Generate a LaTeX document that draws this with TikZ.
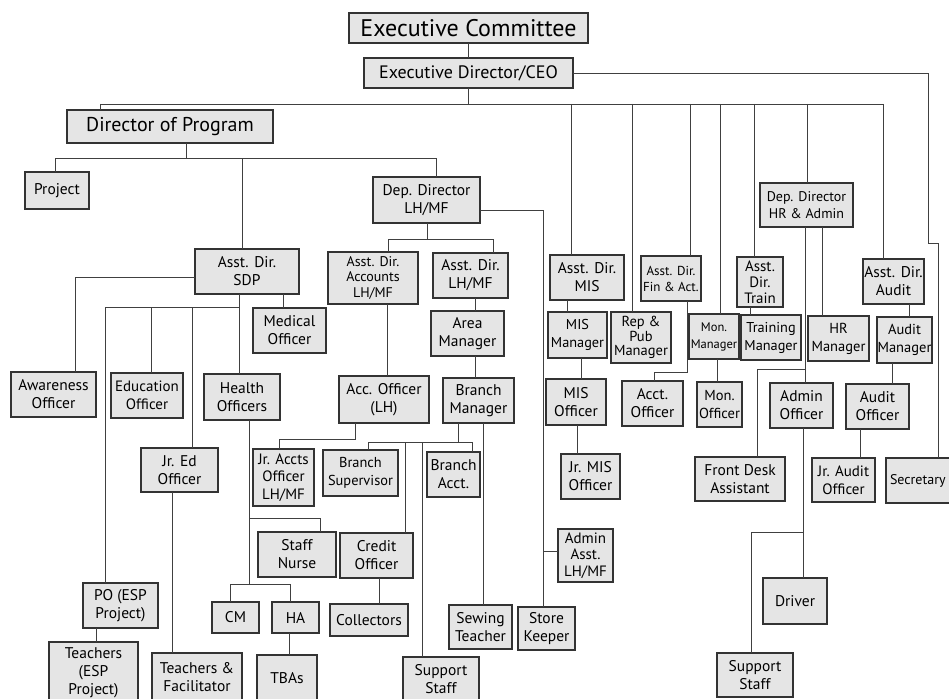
\documentclass[tikz,border=0pt]{standalone}
\usepackage{fontspec}
\setmainfont{PT Sans}
\begin{document}
\begin{tikzpicture}[x=1pt,y=-1pt]
\tikzset{
 box/.style={draw=black!80, line width=1.1pt, fill=black!10, inner sep=0pt, outer sep=0pt, align=center, font=\fontsize{15.5}{18}\selectfont, text=black},
 ln/.style={draw=black!75, line width=0.9pt},
 fs/.style 2 args={font=\fontsize{#1}{#2}\selectfont},
}
\newcommand\bx[7][]{\node[box,minimum width={(#5)-(#3)},minimum height={(#6)-(#4)},#1] (#2) at ({((#3)+(#5))/2},{((#4)+(#6))/2}) {#7};}
\newcommand\vlink[3]{\coordinate (tmp) at (#1,0); \draw[ln] (tmp |- #2.south) -- (tmp |- #3.north);}
\clip (0,0) rectangle (949,698);
\fill[white] (0,0) rectangle (949,698);
% boxes
\bx[fs={24}{28}]{ec}{349}{13}{588}{43}{Executive Committee}
\bx[fs={18}{21}]{ed}{364}{58}{573}{88}{Executive Director/CEO}
\bx[fs={20}{23}]{dop}{67}{110}{273}{143}{Director of Program}
\bx{proj}{25}{172}{89}{209}{Project}
\bx{ddlh}{373}{177}{480}{223}{Dep. Director\\LH/MF}
\bx{sdp}{195}{249}{299}{294}{Asst. Dir.\\SDP}
\bx[fs={14}{15.5}]{ada}{328}{252}{418}{304}{Asst. Dir.\\Accounts\\LH/MF}
\bx{adlh}{433}{253}{508}{298}{Asst. Dir.\\LH/MF}
\bx{mis}{550}{255}{624}{300}{Asst. Dir.\\MIS}
\bx[fs={13}{16}]{fin}{641}{256}{701}{301}{Asst. Dir.\\Fin \& Act.}
\bx[fs={15}{16}]{train}{737}{257}{783}{307}{Asst.\\Dir.\\Train}
\bx[fs={14}{17}]{ddhr}{760}{183}{853}{227}{Dep. Director\\HR \& Admin}
\bx{audit}{863}{259}{924}{304}{Asst. Dir.\\Audit}
\bx{med}{253}{308}{326}{353}{Medical\\Officer}
\bx{area}{431}{311}{504}{356}{Area\\Manager}
\bx[fs={14.3}{18}]{mism}{548}{312}{607}{358}{MIS\\Manager}
\bx[fs={14.5}{14.5}]{rep}{611}{312}{671}{363}{Rep \&\\Pub\\Manager}
\bx[fs={12.5}{17}]{monm}{689}{314}{739}{359}{Mon.\\Manager}
\bx[fs={14.3}{18}]{trm}{741}{315}{801}{360}{Training\\Manager}
\bx[fs={14.5}{18}]{hrm}{808}{316}{869}{361}{HR\\Manager}
\bx[fs={14.5}{18}]{audm}{877}{317}{932}{363}{Audit\\Manager}
\bx{aw}{11}{372}{96}{417}{Awareness\\Officer}
\bx[fs={15}{18}]{edu}{111}{373}{183}{418}{Education\\Officer}
\bx{health}{204}{374}{280}{420}{Health\\Officers}
\bx{acco}{339}{376}{429}{423}{Acc. Officer\\(LH)}
\bx{brm}{443}{378}{514}{423}{Branch\\Manager}
\bx{miso}{546}{379}{606}{425}{MIS\\Officer}
\bx{acct}{622}{381}{683}{426}{Acct.\\Officer}
\bx[fs={14.5}{18}]{mono}{697}{382}{742}{427}{Mon.\\Officer}
\bx{admo}{770}{383}{833}{428}{Admin\\Officer}
\bx{audo}{846}{384}{909}{429}{Audit\\Officer}
\bx{jred}{141}{448}{218}{492}{Jr. Ed\\Officer}
\bx[fs={15}{17.5}]{jracc}{253}{449}{314}{506}{Jr. Accts\\Officer\\LH/MF}
\bx[fs={14.4}{18}]{brs}{323}{450}{398}{496}{Branch\\Supervisor}
\bx{bra}{427}{452}{480}{497}{Branch\\Acct.}
\bx{jrmis}{561}{454}{620}{499}{Jr. MIS\\Officer}
\bx{fd}{695}{457}{785}{501}{Front Desk\\Assistant}
\bx[fs={15}{18}]{jraud}{812}{458}{875}{502}{Jr. Audit\\Officer}
\bx[fs={14}{17},text width=66pt,align=left]{sec}{886}{458}{958}{503}{\hspace*{1pt}Secretary}
\bx{nurse}{258}{532}{336}{577}{Staff\\Nurse}
\bx[fs={15}{16.5}]{adasst}{558}{529}{613}{582}{Admin\\Asst.\\LH/MF}
\bx{credit}{340}{533}{413}{578}{Credit\\Officer}
\bx{driver}{763}{578}{827}{624}{Driver}
\bx{po}{83}{583}{158}{628}{PO (ESP\\Project)}
\bx{cm}{212}{602}{259}{633}{CM}
\bx{ha}{272}{602}{319}{633}{HA}
\bx{coll}{330}{604}{408}{636}{Collectors}
\bx{sew}{449}{605}{512}{649}{Sewing\\Teacher}
\bx{store}{518}{607}{575}{650}{Store\\Keeper}
\bx{teach}{49}{642}{138}{704}{Teachers\\(ESP\\Project)}
\bx{tf}{152}{653}{242}{702}{Teachers \&\\Facilitator}
\bx{tba}{257}{655}{317}{702}{TBAs}
\bx{sup1}{403}{657}{479}{702}{Support\\Staff}
\bx{sup2}{717}{653}{793}{697}{Support\\Staff}
% top connectors
\draw[ln] (ec.south) -- (ed.north);
\coordinate (busL) at (100,104);
\coordinate (busR) at (883,104);
\coordinate (bMis) at (571,104);
\coordinate (bRep) at (632,104);
\coordinate (bFin) at (690,104);
\coordinate (bMon) at (720,104);
\coordinate (bTr) at (754,104);
\coordinate (bHR) at (807,104);
\draw[ln] (ed.south) -- (ed.south |- busL);
\draw[ln] (busL) -- (busR);
\draw[ln] (busL) -- (busL |- dop.north);
\foreach \c/\n in {bMis/mis,bRep/rep,bFin/fin,bMon/monm,bTr/train,bHR/ddhr,busR/audit}
  \draw[ln] (\c) -- (\c |- \n.north);
\coordinate (r1) at (928,73);
\coordinate (r2) at (928,243);
\coordinate (r3) at (938,243);
\draw[ln] (ed.east |- r1) -- (r1) -- (r2) -- (r3) -- (r3 |- sec.north);
% director of program
\coordinate (dL) at (55,158);
\coordinate (dR) at (436,158);
\coordinate (dM) at (242,158);
\coordinate (dT) at (186,158);
\draw[ln] (dT |- dop.south) -- (dT);
\draw[ln] (dL) -- (dR);
\draw[ln] (dL) -- (dL |- proj.north);
\draw[ln] (dM) -- (dM |- sdp.north);
\draw[ln] (dR) -- (dR |- ddlh.north);
% dep director LH/MF
\coordinate (l1) at (543,210);
\coordinate (l2) at (543,551);
\draw[ln] (ddlh.east |- l1) -- (l1) -- (l1 |- store.north);
\draw[ln] (l2) -- (l2 -| adasst.west);
\coordinate (k0) at (427,239);
\coordinate (kL) at (388,239);
\coordinate (kR) at (493,239);
\draw[ln] (k0 |- ddlh.south) -- (k0);
\draw[ln] (kL) -- (kR);
\draw[ln] (kL) -- (kL |- ada.north);
\draw[ln] (kR) -- (kR |- adlh.north);
% vertical links
\vlink{387}{ada}{acco}
\vlink{475}{adlh}{area}
\vlink{475}{area}{brm}
\vlink{567}{mis}{mism}
\vlink{581}{mism}{miso}
\vlink{577}{miso}{jrmis}
\vlink{717}{monm}{mono}
\vlink{750}{train}{trm}
\vlink{822}{ddhr}{hrm}
\vlink{909}{audit}{audm}
\vlink{892}{audm}{audo}
\vlink{860}{audo}{jraud}
\vlink{239}{sdp}{health}
\vlink{283}{sdp}{med}
\vlink{289}{ha}{tba}
\vlink{96}{po}{teach}
\vlink{172}{jred}{tf}
\vlink{379}{credit}{coll}
\vlink{483}{brm}{sew}
\vlink{805}{ddhr}{admo}
\vlink{803}{admo}{driver}
% elbows
\coordinate (e1) at (355,439);
\coordinate (e2) at (279,439);
\draw[ln] (e1 |- acco.south) -- (e1) -- (e2) -- (e2 |- jracc.north);
\coordinate (g0) at (458,442);
\coordinate (gL) at (368,442);
\coordinate (gR) at (472,442);
\coordinate (gC) at (405,442);
\coordinate (gS) at (422,442);
\draw[ln] (g0 |- brm.south) -- (g0);
\draw[ln] (gL) -- (gR);
\draw[ln] (gL) -- (gL |- brs.north);
\draw[ln] (gR) -- (gR |- bra.north);
\draw[ln] (gC) -- (gC |- credit.north);
\draw[ln] (gS) -- (gS |- sup1.north);
\coordinate (f1) at (687,372);
\coordinate (f2) at (654,372);
\draw[ln] (f1 |- fin.south) -- (f1) -- (f2) -- (f2 |- acct.north);
\coordinate (h1) at (805,369);
\coordinate (h2) at (757,369);
\draw[ln] (h1) -- (h2) -- (h2 |- fd.north);
\coordinate (j1) at (803,532);
\coordinate (j2) at (751,532);
\draw[ln] (j1) -- (j2) -- (j2 |- sup2.north);
\coordinate (s1) at (75,277);
\draw[ln] (sdp.west |- s1) -- (s1) -- (s1 |- aw.north);
\coordinate (t0) at (239,307);
\coordinate (tL) at (105,307);
\coordinate (tE) at (151,307);
\coordinate (tJ) at (192,307);
\draw[ln] (tL) -- (t0);
\draw[ln] (tL) -- (tL |- po.north);
\draw[ln] (tE) -- (tE |- edu.north);
\draw[ln] (tJ) -- (tJ |- jred.north);
\coordinate (u1) at (249,584);
\coordinate (u2) at (249,518);
\coordinate (uN) at (320,518);
\draw[ln] (u1 |- health.south) -- (u1);
\draw[ln] (u2) -- (uN) -- (uN |- nurse.north);
\coordinate (cL) at (230,584);
\coordinate (cR) at (290,584);
\draw[ln] (cL) -- (cR);
\draw[ln] (cL) -- (cL |- cm.north);
\draw[ln] (cR) -- (cR |- ha.north);
\end{tikzpicture}
\end{document}
